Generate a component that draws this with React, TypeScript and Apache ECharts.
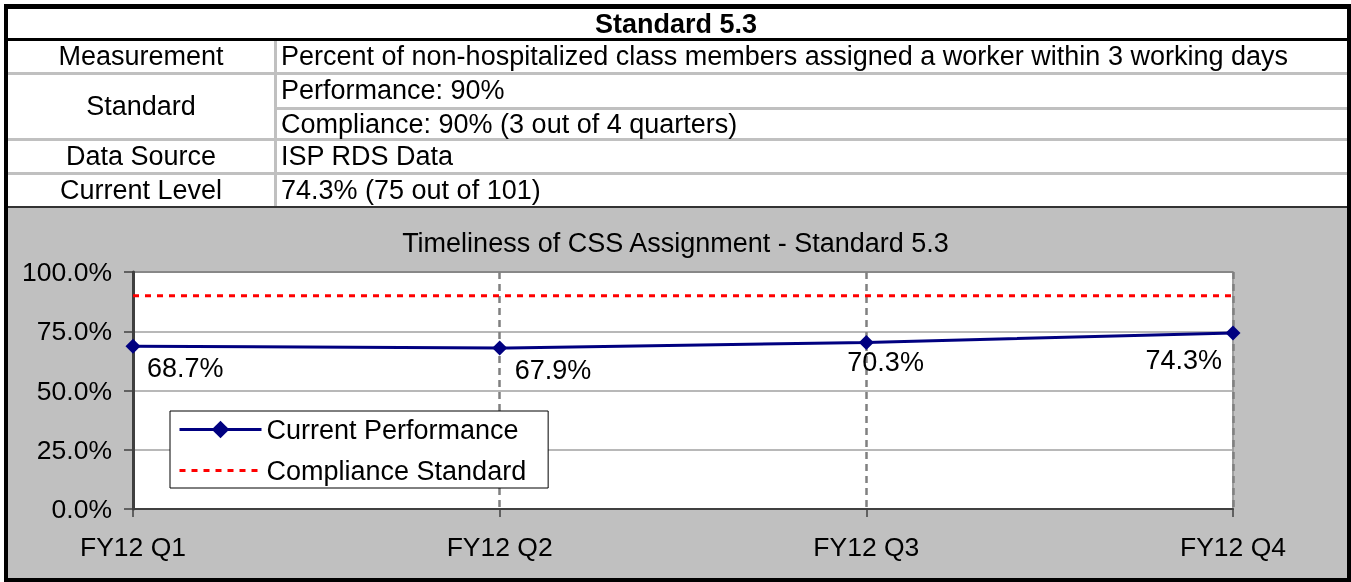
import React, { useEffect, useRef } from 'react';
import * as echarts from 'echarts';

// ---- data ----
const categories = ['FY12 Q1', 'FY12 Q2', 'FY12 Q3', 'FY12 Q4'];
const currentPerformance = [68.7, 67.9, 70.3, 74.3];
const complianceStandard = [90, 90, 90, 90];
const seriesNames = ['Current Performance', 'Compliance Standard'];
const chartTitle = 'Timeliness of CSS Assignment - Standard 5.3';
const tableTitle = 'Standard 5.3';
const rowLabels = ['Measurement', 'Standard', 'Data Source', 'Current Level'];
const rowValues = [
  'Percent of non-hospitalized class members assigned a worker within 3 working days',
  'Performance: 90%',
  'Compliance: 90% (3 out of 4 quarters)',
  'ISP RDS Data',
  '74.3% (75 out of 101)',
];

// ---- layout / style ----
const FONT = '"Liberation Sans", Arial, Helvetica, sans-serif';
const FS = 27;
const rowLabelY = [56, 106, 156, 190];
const rowValueY = [56, 90, 124, 156, 190];
const labelLayout = [
  { align: 'left', offset: [14, 22] },
  { align: 'left', offset: [15, 22] },
  { align: 'left', offset: [-19, 20] },
  { align: 'right', offset: [-11, 27] },
];

function txt(text: string, x: number, y: number, align: string, bold = false) {
  return {
    type: 'text',
    z: 10,
    style: {
      text,
      x,
      y,
      fill: '#000',
      fontSize: FS,
      fontFamily: FONT,
      fontWeight: bold ? 'bold' : 'normal',
      align,
      textAlign: align,
      verticalAlign: 'middle',
      textVerticalAlign: 'middle',
    },
  };
}

function box(x: number, y: number, w: number, h: number, fill: string, z = -10) {
  return { type: 'rect', z, shape: { x, y, width: w, height: h }, style: { fill } };
}

export default function App() {
  const ref = useRef<HTMLDivElement>(null);
  useEffect(() => {
    if (!ref.current) return;
    const chart = echarts.init(ref.current, undefined, { renderer: 'svg' });
    const graphics: any[] = [
      box(4, 4, 1347, 578, '#000', -30),
      box(8, 9, 1339, 197, '#fff', -20),
      box(8, 208, 1339, 370, '#c0c0c0', -20),
      box(8, 206, 1339, 2, '#333', -15),
      box(8, 38, 1339, 3, '#000', -15),
      box(8, 72, 1339, 3, '#c0c0c0', -15),
      box(277, 107, 1070, 3, '#c0c0c0', -15),
      box(8, 138, 1339, 3, '#c0c0c0', -15),
      box(8, 172, 1339, 3, '#c0c0c0', -15),
      box(274, 41, 3, 165, '#c0c0c0', -14),
      txt(tableTitle, 676, 24, 'center', true),
    ];
    rowLabels.forEach((t, i) => graphics.push(txt(t, 141, rowLabelY[i], 'center')));
    rowValues.forEach((t, i) => graphics.push(txt(t, 281, rowValueY[i], 'left')));

    chart.setOption({
      animation: false,
      textStyle: { fontFamily: FONT },
      graphic: { elements: graphics },
      title: {
        text: chartTitle,
        left: 'center',
        top: 229,
        padding: 0,
        textStyle: { fontSize: FS, fontWeight: 'normal', color: '#000', fontFamily: FONT },
      },
      legend: {
        orient: 'vertical',
        left: 170,
        top: 411,
        backgroundColor: '#fff',
        borderColor: '#000',
        borderWidth: 1,
        padding: [3, 22, 2, 8],
        itemWidth: 82,
        itemHeight: 22,
        itemGap: 10,
        textStyle: { fontSize: FS, color: '#000', fontFamily: FONT, lineHeight: 31 },
        data: [
          { name: seriesNames[0], lineStyle: { width: 3 } },
          { name: seriesNames[1], itemStyle: { opacity: 0 }, lineStyle: { width: 3 } },
        ],
      },
      grid: {
        left: 133,
        right: 118,
        top: 272,
        bottom: 73,
        show: true,
        backgroundColor: '#fff',
        borderColor: '#a0a0a0',
        borderWidth: 2,
      },
      xAxis: {
        type: 'category',
        data: categories,
        boundaryGap: false,
        axisLine: { lineStyle: { color: '#404040', width: 2 } },
        axisTick: { show: true, length: 8, lineStyle: { color: '#404040', width: 1.5 } },
        axisLabel: { fontSize: 26.5, color: '#000', margin: 24, fontFamily: FONT },
        splitLine: { show: true, lineStyle: { color: '#808080', width: 2.5, type: [7, 5] } },
      },
      yAxis: {
        type: 'value',
        min: 0,
        max: 100,
        interval: 25,
        axisLine: { show: true, lineStyle: { color: '#404040', width: 3 } },
        axisTick: { show: true, length: 9, lineStyle: { color: '#404040', width: 1.5 } },
        axisLabel: {
          fontSize: 26.5,
          color: '#000',
          margin: 21,
          fontFamily: FONT,
          formatter: (v: number) => v.toFixed(1) + '%',
        },
        splitLine: {
          show: true,
          lineStyle: { color: ['#a0a0a0', '#a0a0a0', '#a0a0a0', '#a0a0a0', '#808080'], width: 1.5 },
        },
      },
      series: [
        {
          name: seriesNames[0],
          type: 'line',
          z: 5,
          data: currentPerformance.map((v, i) => ({
            value: v,
            label: {
              show: true,
              position: 'inside',
              align: labelLayout[i].align,
              verticalAlign: 'middle',
              offset: labelLayout[i].offset,
            },
          })),
          symbol: 'diamond',
          symbolSize: 15,
          itemStyle: { color: '#000080' },
          lineStyle: { color: '#000080', width: 3 },
          label: {
            fontSize: FS,
            color: '#000',
            fontFamily: FONT,
            formatter: (p: any) => Number(p.value).toFixed(1) + '%',
          },
        },
        {
          name: seriesNames[1],
          type: 'line',
          z: 3,
          data: complianceStandard,
          symbol: 'none',
          itemStyle: { color: '#ff0000' },
          lineStyle: { color: '#ff0000', width: 3, type: [6, 6] },
        },
      ],
    });
    return () => chart.dispose();
  }, []);
  return (
    <div
      ref={ref}
      style={{ position: 'fixed', left: 0, top: 0, width: 1351, height: 582 }}
    />
  );
}
